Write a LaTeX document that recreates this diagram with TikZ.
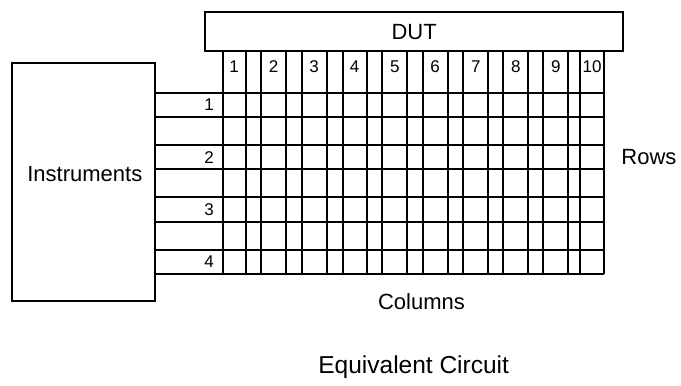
\documentclass[tikz,border=0pt]{standalone}
\usepackage{fontspec}
\setmainfont{Liberation Sans}
\usepackage{tikz}

\begin{document}
\begin{tikzpicture}[x=1pt,y=-1pt]
\tikzset{
  wire/.style={draw=black, line width=2pt},
  box/.style={draw=black, line width=2pt, inner sep=0pt},
  lbl/.style={inner sep=0pt, font=\fontsize{22}{26}\selectfont},
  num/.style={inner sep=0pt, font=\fontsize{17}{20}\selectfont},
}
\useasboundingbox (0,0) rectangle (681,386);

% boxes
\node[
  box,
  minimum width=143pt,
  minimum height=238pt] (instr) at (83.4,181.7) {};
\node[lbl] (instrtxt) at (84.8,174) {Instruments};

\node[
  box,
  lbl,
  minimum width=418.5pt,
  minimum height=39.5pt] (dut) at (414.2,31.7) {DUT};

% rows
\foreach \a/\b/\n in {92.7/116.7/1, 145/169.3/2, 197.3/222.3/3, 250/274/4}
{
  \path[wire] (155,\a) -- (604.3,\a);
  \path[wire] (155,\b) -- (604.3,\b);
  \node[num, anchor=east] (row\n) at (214,{(\a+\b)/2}) {\n};
}

% columns
\foreach \a/\b/\n in {222.7/245.7/1, 261/286/2, 301.7/326.7/3, 342.7/366.7/4,
  382.3/407.3/5, 422.7/447.7/6, 463.3/488.3/7, 503.3/528.3/8,
  543.3/568.3/9, 580/604.3/10}
{
  \path[wire] (\a,51.5) -- (\a,274);
  \path[wire] (\b,51.5) -- (\b,274);
  \node[num] (col\n) at ({(\a+\b)/2},67) {\n};
}

\node[lbl] (rows) at (649,157) {Rows};
\node[lbl] (cols) at (421.5,301.3) {Columns};
\node[
  lbl,
  font=\fontsize{24.5}{28}\selectfont,
  anchor=base] (title) at (413.7,373.3) {Equivalent Circuit};
\end{tikzpicture}
\end{document}
